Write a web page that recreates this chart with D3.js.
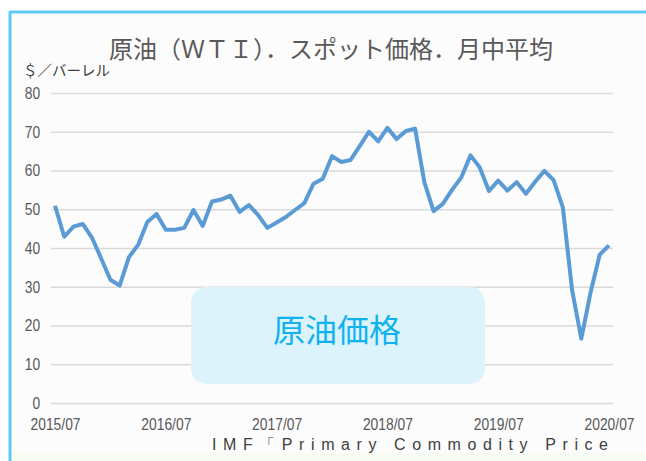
<!DOCTYPE html>
<html>
<head>
<meta charset="utf-8">
<script src="https://cdn.jsdelivr.net/npm/d3@7"></script>
<style>
  body { margin: 0; background: #fff; }
  svg { display: block; }
</style>
</head>
<body>
<div id="chart"></div>
<script>
// WTI spot price, monthly average ($/barrel), 2015/07 .. 2020/07
const prices = [
  50.9, 42.9, 45.5, 46.2, 42.7, 37.3,
  31.8, 30.3, 37.6, 40.8, 46.7, 48.8, 44.7, 44.7, 45.2, 49.8, 45.7, 52.0,
  52.5, 53.5, 49.3, 51.1, 48.5, 45.2, 46.6, 48.0, 49.8, 51.6, 56.6, 57.9,
  63.7, 62.2, 62.7, 66.3, 70.0, 67.5, 71.0, 68.1, 70.2, 70.8, 57.0, 49.5,
  51.4, 55.0, 58.2, 63.9, 60.8, 54.7, 57.4, 54.8, 57.0, 54.0, 57.1, 59.9,
  57.5, 50.5, 29.2, 16.6, 28.5, 38.3, 40.7
];
const xTickLabels = ["2015/07", "2016/07", "2017/07", "2018/07", "2019/07", "2020/07"];
const yTicks = [0, 10, 20, 30, 40, 50, 60, 70, 80];

const title = "原油（ＷＴＩ）．スポット価格．月中平均";
const unitLabel = "＄／バーレル";
const boxLabel = "原油価格";
const sourceText = "IMF「Primary Commodity Price";

const W = 646, H = 461;
const svg = d3.select("#chart").append("svg")
  .attr("width", W).attr("height", H);

// frame
svg.append("rect").attr("x", 11).attr("y", 13).attr("width", W - 11).attr("height", H - 13)
  .attr("fill", "#fcfcfc");
svg.append("rect").attr("x", 11).attr("y", 453).attr("width", W - 11).attr("height", 8)
  .attr("fill", "#f6fbf3");
svg.append("line").attr("x1", 10).attr("x2", W).attr("y1", 12).attr("y2", 12)
  .attr("stroke", "#5ec9f6").attr("stroke-width", 3);
svg.append("line").attr("x1", 10).attr("x2", 10).attr("y1", 11).attr("y2", H)
  .attr("stroke", "#5ec9f6").attr("stroke-width", 3);

// month categories
const months = d3.timeMonth.range(new Date(2015, 6, 1), new Date(2020, 7, 1))
  .map(d3.timeFormat("%Y/%m"));

const x = d3.scalePoint().domain(months).range([55, 609]);
const y = d3.scaleLinear().domain([0, 80]).range([403, 93]);

const numFont = "'Liberation Sans', sans-serif";

// y gridlines + labels
const yAxis = svg.append("g")
  .attr("transform", "translate(51,0)")
  .call(d3.axisLeft(y).tickValues(yTicks).tickSize(-562).tickPadding(13));
yAxis.select(".domain").remove();
yAxis.selectAll(".tick line").attr("stroke", "#dadada").attr("stroke-width", 1.5);
yAxis.selectAll(".tick text")
  .attr("fill", "#595959").attr("transform", "scale(0.84,1)")
  .style("font-family", numFont).style("font-size", "16.5px");

// x labels
const xAxis = svg.append("g")
  .attr("transform", "translate(0,403)")
  .call(d3.axisBottom(x).tickValues(xTickLabels).tickSize(0).tickPadding(15));
xAxis.select(".domain").remove();
xAxis.selectAll(".tick text")
  .attr("fill", "#595959").attr("transform", "scale(0.84,1)")
  .style("font-family", numFont).style("font-size", "16.5px");

// price line
const line = d3.line()
  .x((d, i) => x(months[i]))
  .y(d => y(d));
svg.append("path")
  .datum(prices)
  .attr("fill", "none")
  .attr("stroke", "#5b9bd5")
  .attr("stroke-width", 4)
  .attr("stroke-linejoin", "round")
  .attr("d", line);

// title
svg.append("text")
  .attr("x", 331).attr("y", 58)
  .attr("text-anchor", "middle")
  .attr("fill", "#595959")
  .style("font-family", "'Noto Sans CJK JP', sans-serif")
  .style("font-size", "24px")
  .text(title);

svg.append("text")
  .attr("x", 23).attr("y", 76)
  .attr("fill", "#404040")
  .style("font-family", "'Noto Sans CJK JP', sans-serif")
  .style("font-size", "14.5px")
  .text(unitLabel);

// annotation box
svg.append("rect")
  .attr("x", 191).attr("y", 287).attr("width", 294).attr("height", 97)
  .attr("rx", 15)
  .attr("fill", "#ddf3fc");
svg.append("text")
  .attr("x", 337).attr("y", 342)
  .attr("text-anchor", "middle")
  .attr("fill", "#0fb2ef")
  .style("font-family", "'Noto Sans CJK JP', sans-serif")
  .style("font-size", "32px")
  .text(boxLabel);

// source
svg.append("text")
  .attr("x", 212).attr("y", 450)
  .attr("fill", "#404040")
  .attr("textLength", 396)
  .attr("lengthAdjust", "spacing")
  .style("font-family", "'Liberation Sans', sans-serif")
  .style("font-size", "16px")
  .text(sourceText);
</script>
</body>
</html>
